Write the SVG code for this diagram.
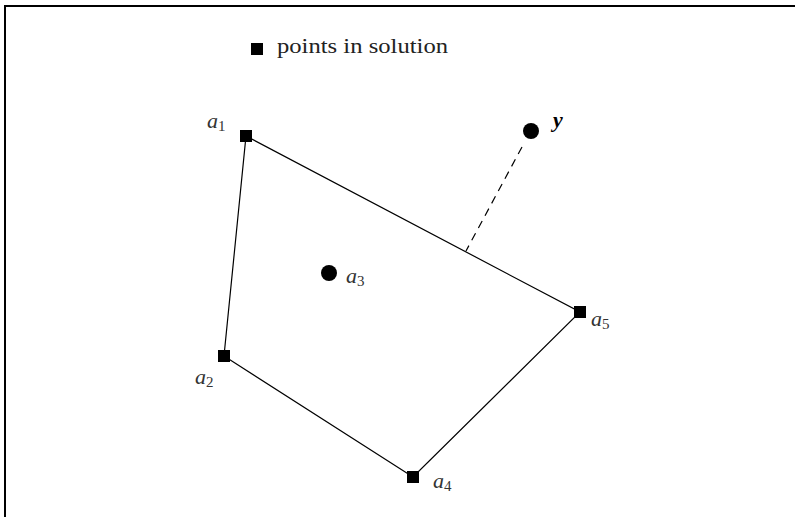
<svg xmlns="http://www.w3.org/2000/svg" width="795" height="517" viewBox="0 0 795 517">
<style>
.lbl{font-family:"Liberation Serif","DejaVu Serif",serif;font-size:22px;fill:#333;font-style:italic}
.sub{font-size:15px;font-style:normal}
.leg{font-family:"Liberation Serif","DejaVu Serif",serif;font-size:22px;fill:#222}
.pt{fill:#000}
.edge{stroke:#000;stroke-width:1.2;fill:none}
</style>
<rect width="795" height="517" fill="#fff"/>
<path d="M5,517 V6 H795" stroke="#000" stroke-width="2" fill="none"/>
<g id="legend">
<rect class="pt" x="251" y="43" width="12" height="12"/>
<text class="leg" x="277" y="53" textLength="171" lengthAdjust="spacingAndGlyphs">points in solution</text>
</g>
<g id="connectors">
<polygon class="edge" points="246,136 580,312 413,477 224,356"/>
<line x1="522" y1="147" x2="466" y2="251" stroke="#000" stroke-width="1.2" stroke-dasharray="8,6"/>
</g>
<g id="a1"><rect class="pt" x="240" y="130" width="12" height="12"/><text class="lbl" x="207" y="128">a<tspan class="sub" dy="3">1</tspan></text></g>
<g id="a2"><rect class="pt" x="218" y="350" width="12" height="12"/><text class="lbl" x="195" y="384">a<tspan class="sub" dy="3">2</tspan></text></g>
<g id="a3"><circle class="pt" cx="329" cy="273" r="8"/><text class="lbl" x="346" y="283">a<tspan class="sub" dy="3">3</tspan></text></g>
<g id="a4"><rect class="pt" x="407" y="471" width="12" height="12"/><text class="lbl" x="433" y="488">a<tspan class="sub" dy="3">4</tspan></text></g>
<g id="a5"><rect class="pt" x="574" y="306" width="12" height="12"/><text class="lbl" x="591" y="326">a<tspan class="sub" dy="3">5</tspan></text></g>
<g id="y"><circle class="pt" cx="531" cy="131" r="8"/><text class="lbl" x="553" y="127" font-weight="bold" style="fill:#000">y</text></g>
</svg>
